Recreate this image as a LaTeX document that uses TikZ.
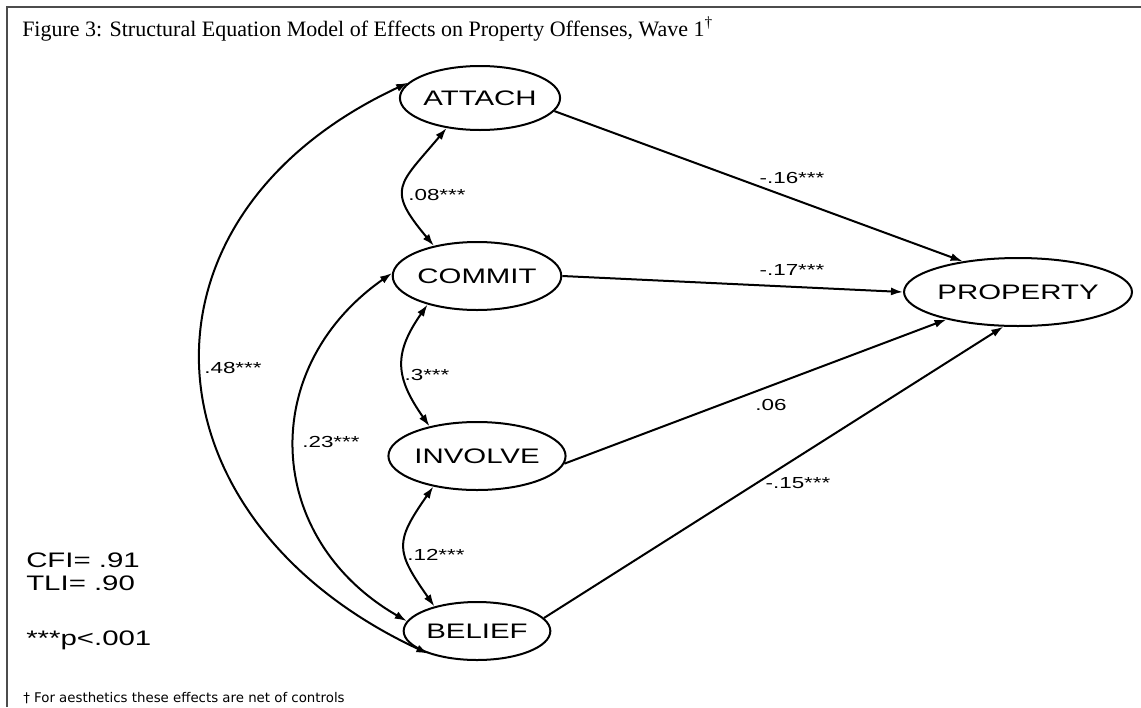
\documentclass[tikz,border=0pt]{standalone}
\usepackage{fontspec}
\setmainfont{Liberation Serif}
\newfontfamily\semfont[FakeStretch=1.4]{Liberation Sans}
\newfontfamily\notefont{DejaVu Sans}
\usetikzlibrary{arrows.meta,shapes.geometric}
\begin{document}
\begin{tikzpicture}[x=0.75pt,y=0.75pt,
  latent/.style={draw, line width=1.5pt, ellipse, inner sep=0pt,
    font=\semfont\fontsize{15.75}{18}\selectfont},
  effect/.style={line width=1.5pt, -{Latex[length=9pt,width=6pt]}},
  cov/.style={line width=1.5pt, {Latex[length=9pt,width=6pt]}-{Latex[length=9pt,width=6pt]}},
  coef/.style={font=\semfont\fontsize{12}{14}\selectfont, inner sep=0pt},
  fitstat/.style={font=\semfont\fontsize{15.75}{18}\selectfont, anchor=base west, inner sep=0pt},
]
\useasboundingbox (0,0) rectangle (1141,-707);
\fill[white] (0,0) rectangle (1141,-707);

% frame
\draw[line width=1.3pt, black!70] (7,-707) -- (7,-7) -- (1141,-7);

% title and footnote
\node[anchor=base west, inner sep=0pt, font=\fontsize{16.5}{19}\selectfont] (title) at (22,-36)
  {Figure 3: Structural Equation Model of Effects on Property Offenses, Wave 1\textsuperscript{†}};
\node[anchor=base west, inner sep=0pt, font=\notefont\fontsize{10}{12}\selectfont] (note) at (23,-702)
  {† For aesthetics these effects are net of controls};

% latent variables
\node[latent, minimum width=108pt, minimum height=48pt] (attach) at (480,-98) {ATTACH};
\node[latent, minimum width=111pt, minimum height=51pt] (commit) at (477,-276) {COMMIT};
\node[latent, minimum width=110pt, minimum height=51pt] (involve) at (477,-456) {INVOLVE};
\node[latent, minimum width=110pt, minimum height=43.5pt] (belief) at (477,-631) {BELIEF};
\node[latent, minimum width=140pt, minimum height=51pt] (property) at (1018,-292) {PROPERTY};

% structural paths
\draw[effect] (attach.-10) -- (property.151);
\draw[effect] (commit.east) -- (property.west);
\draw[effect] (involve.-5) -- (property.201);
\draw[effect] (belief.11) -- (property.247);

\node[coef] (p16) at (792,-178) {-.16***};
\node[coef] (p17) at (792,-270) {-.17***};
\node[coef] (p06) at (771,-405) {.06};
\node[coef] (p15) at (798,-483) {-.15***};

% covariances
\draw[cov] (attach.222) to[out=230,in=130,distance=56pt] (commit.145);
\draw[cov] (commit.210) to[out=235,in=125,distance=45pt] (involve.148);
\draw[cov] (involve.215) to[out=235,in=125,distance=51pt] (belief.150);
\draw[cov] (commit.178) to[out=215,in=150,distance=124pt] (belief.172);
\draw[cov] (attach.168) to[out=205,in=155,distance=239pt] (belief.205);

\node[coef] (c08) at (437,-195) {.08***};
\node[coef] (c3) at (427,-375) {.3***};
\node[coef] (c12) at (436,-555) {.12***};
\node[coef] (c23) at (331,-442) {.23***};
\node[coef] (c48) at (233,-368) {.48***};

% fit statistics
\node[fitstat] (cfi) at (26,-567) {CFI= .91};
\node[fitstat] (tli) at (26,-590) {TLI= .90};
\node[fitstat] (sig) at (26,-645) {***p<.001};
\end{tikzpicture}
\end{document}
